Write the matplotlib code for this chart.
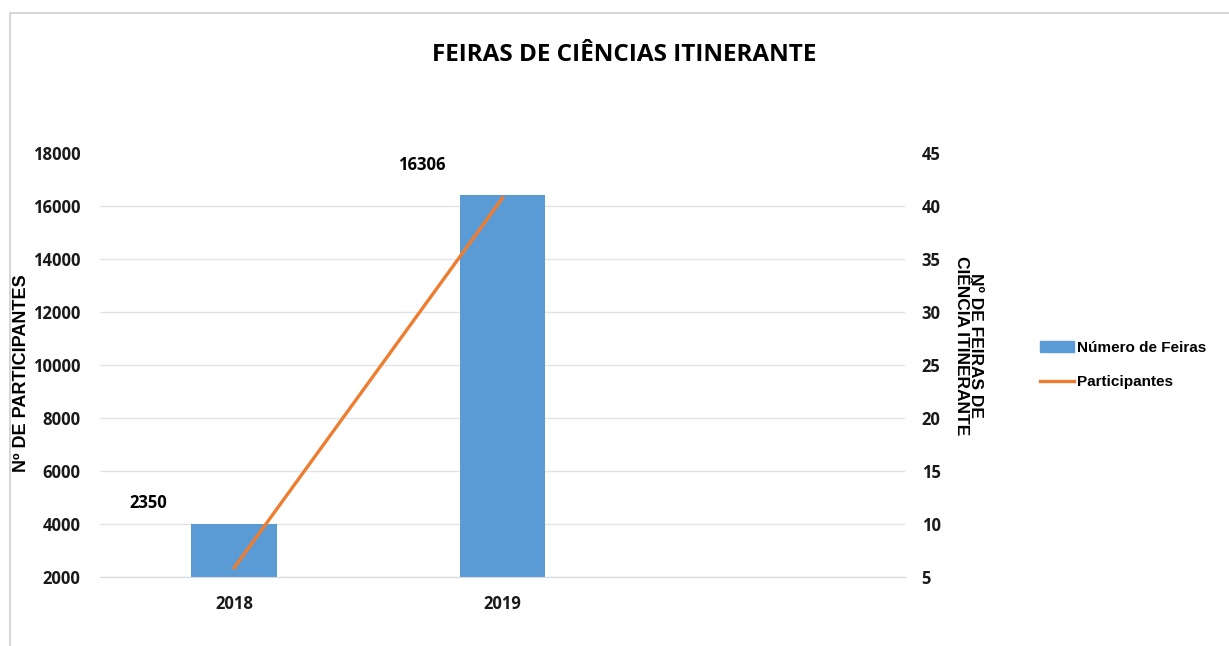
import matplotlib.pyplot as plt
import matplotlib.patches as mpatches
from matplotlib.lines import Line2D

# data
anos = ['2018', '2019', '']
num_feiras = [10, 41]
participantes = [2350, 16306]
rotulos = ['2350', '16306']

plt.rcParams['font.family'] = ['Open Sans', 'DejaVu Sans']
plt.rcParams['font.weight'] = 'bold'

fig = plt.figure(figsize=(12.29, 6.46), dpi=100)
ax = fig.add_axes([0.0814, 0.1068, 0.6550, 0.6563])
ax2 = ax.twinx()

# left axis: participantes (line), right axis: feiras (bars)
ax.set_zorder(2)
ax.patch.set_visible(False)

x = list(range(len(anos)))
ax2.bar(x[:2], num_feiras, width=0.32, color='#5B9BD5', zorder=2)
ax.plot(x[:2], participantes, color='#ED7D31', linewidth=2.4, zorder=3)

ax.set_ylim(2000, 18000)
ax.set_yticks(range(2000, 18001, 2000))
ax2.set_ylim(5, 45)
ax2.set_yticks(range(5, 46, 5))
ax.set_xlim(-0.5, 2.5)
ax.set_xticks(x)
ax.set_xticklabels(anos)

ax2.grid(axis='y', color='#E3E3E3', linewidth=1.0, zorder=0)
ax2.set_axisbelow(True)
ax2.get_ygridlines()[-1].set_visible(False)

for a in (ax, ax2):
    for s in a.spines.values():
        s.set_visible(False)
    a.tick_params(length=0, labelsize=12, colors='#1a1a1a')
ax.spines['bottom'].set_visible(True)
ax.spines['bottom'].set_color('#D9D9D9')
ax.tick_params(axis='x', pad=13)
ax.tick_params(axis='y', pad=14)
ax2.tick_params(axis='y', pad=12)

# data labels
ax.text(-0.32, 4800, rotulos[0], ha='center', va='center', fontsize=12, fontweight='bold')
ax.text(0.70, 17550, rotulos[1], ha='center', va='center', fontsize=12, fontweight='bold')

ax.set_ylabel('Nº DE PARTICIPANTES', fontsize=13, fontweight='bold', family='Liberation Sans', labelpad=0)
ax.yaxis.set_label_coords(-0.087, 0.48)
fig.text(0.788, 0.465, 'Nº DE FEIRAS DE\nCIÊNCIA ITINERANTE', rotation=-90, ha='center', va='center',
         fontsize=12.5, fontweight='bold', family='Liberation Sans', linespacing=0.95)

fig.text(0.508, 0.915, 'FEIRAS DE CIÊNCIAS ITINERANTE', ha='center', va='center',
         fontsize=17.5, fontweight='bold')

handles = [mpatches.Patch(color='#5B9BD5'),
           Line2D([0], [0], color='#ED7D31', linewidth=2.4)]
fig.legend(handles, ['Número de Feiras', 'Participantes'], loc='center left',
           bbox_to_anchor=(0.835, 0.435), frameon=False, prop={'family': 'Liberation Sans', 'weight': 'bold', 'size': 11},
           handlelength=2.2, handletextpad=0.2, labelspacing=1.3)

# light frame around the chart area
fig.patches.append(mpatches.Rectangle((0.008, -0.05), 1.1, 1.03, transform=fig.transFigure,
                                      fill=False, edgecolor='#D0D0D0', linewidth=1.2))

fig.savefig('out.png', dpi=100)
